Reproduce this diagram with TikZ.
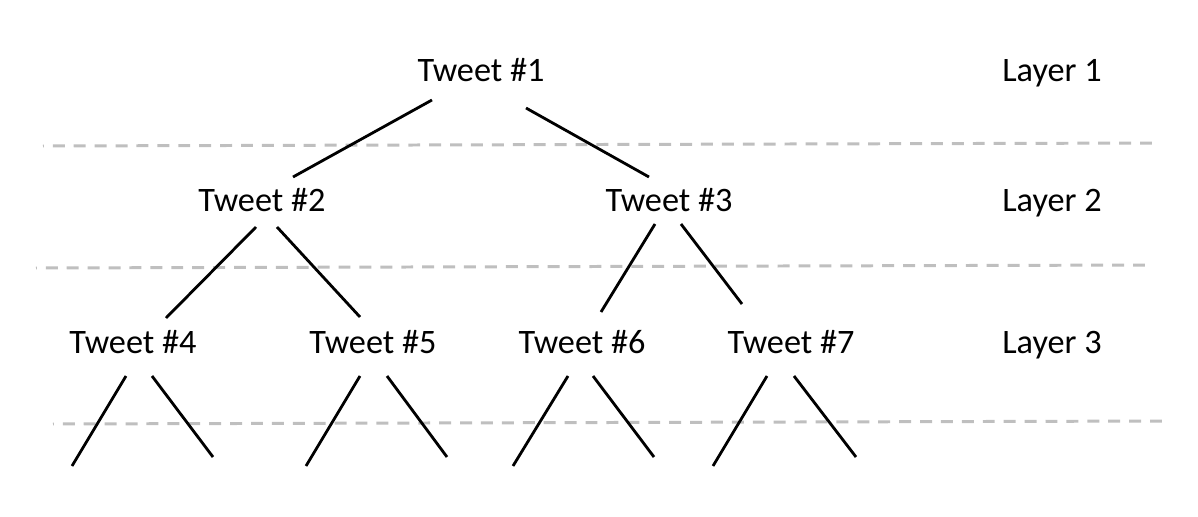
\documentclass[tikz,border=0pt]{standalone}
\usepackage{fontspec}
\setmainfont{Carlito}
\definecolor{sepgray}{RGB}{191,191,191}

\begin{document}
\begin{tikzpicture}[x=0.02cm,y=-0.02cm,
  tweet/.style={anchor=base,inner sep=0pt,font=\fontsize{19.5}{23}\selectfont},
  edge/.style={line width=1.6pt},
  layersep/.style={sepgray,line width=1.7pt,dash pattern=on 6.8pt off 5.1pt,dash phase=6.3pt}]

\useasboundingbox (0,0) rectangle (1198,517);

% layer separators
\draw[layersep] (43,146) -- (1160,143);
\draw[layersep] (36,268) -- (1153,265);
\draw[layersep] (53,424) -- (1169,421);

% tweets
\node[tweet] (t1) at (481,82) {Tweet \#1};
\node[tweet] (t2) at (262,212) {Tweet \#2};
\node[tweet] (t3) at (669,212) {Tweet \#3};
\node[tweet] (t4) at (133,353) {Tweet \#4};
\node[tweet] (t5) at (373,353) {Tweet \#5};
\node[tweet] (t6) at (582,353) {Tweet \#6};
\node[tweet] (t7) at (791,353) {Tweet \#7};

% layer labels
\node[tweet] (l1) at (1052,82) {Layer 1};
\node[tweet] (l2) at (1052,212) {Layer 2};
\node[tweet] (l3) at (1052,353) {Layer 3};

% replies
\draw[edge] ([shift={(-49,18)}]t1.base) -- ([shift={(31,-35)}]t2.base);
\draw[edge] ([shift={(45,26)}]t1.base) -- ([shift={(-20,-35)}]t3.base);
\draw[edge] ([shift={(-6,15)}]t2.base) -- ([shift={(33,-35)}]t4.base);
\draw[edge] ([shift={(15,15)}]t2.base) -- ([shift={(-13,-36)}]t5.base);
\draw[edge] ([shift={(-14,12)}]t3.base) -- ([shift={(19,-41)}]t6.base);
\draw[edge] ([shift={(12,12)}]t3.base) -- ([shift={(-49,-49)}]t7.base);

% loose ends below layer 3
\coordinate (e4a) at (72,466);
\coordinate (e4b) at (213,457);
\coordinate (e5a) at (306,466);
\coordinate (e5b) at (447,457);
\coordinate (e6a) at (513,466);
\coordinate (e6b) at (654,457);
\coordinate (e7a) at (713,466);
\coordinate (e7b) at (856,457);

\draw[edge] ([shift={(-7,23)}]t4.base) -- (e4a);
\draw[edge] ([shift={(19,23)}]t4.base) -- (e4b);
\draw[edge] ([shift={(-13,23)}]t5.base) -- (e5a);
\draw[edge] ([shift={(14,23)}]t5.base) -- (e5b);
\draw[edge] ([shift={(-14,23)}]t6.base) -- (e6a);
\draw[edge] ([shift={(11,23)}]t6.base) -- (e6b);
\draw[edge] ([shift={(-24,23)}]t7.base) -- (e7a);
\draw[edge] ([shift={(3,23)}]t7.base) -- (e7b);

\end{tikzpicture}
\end{document}
